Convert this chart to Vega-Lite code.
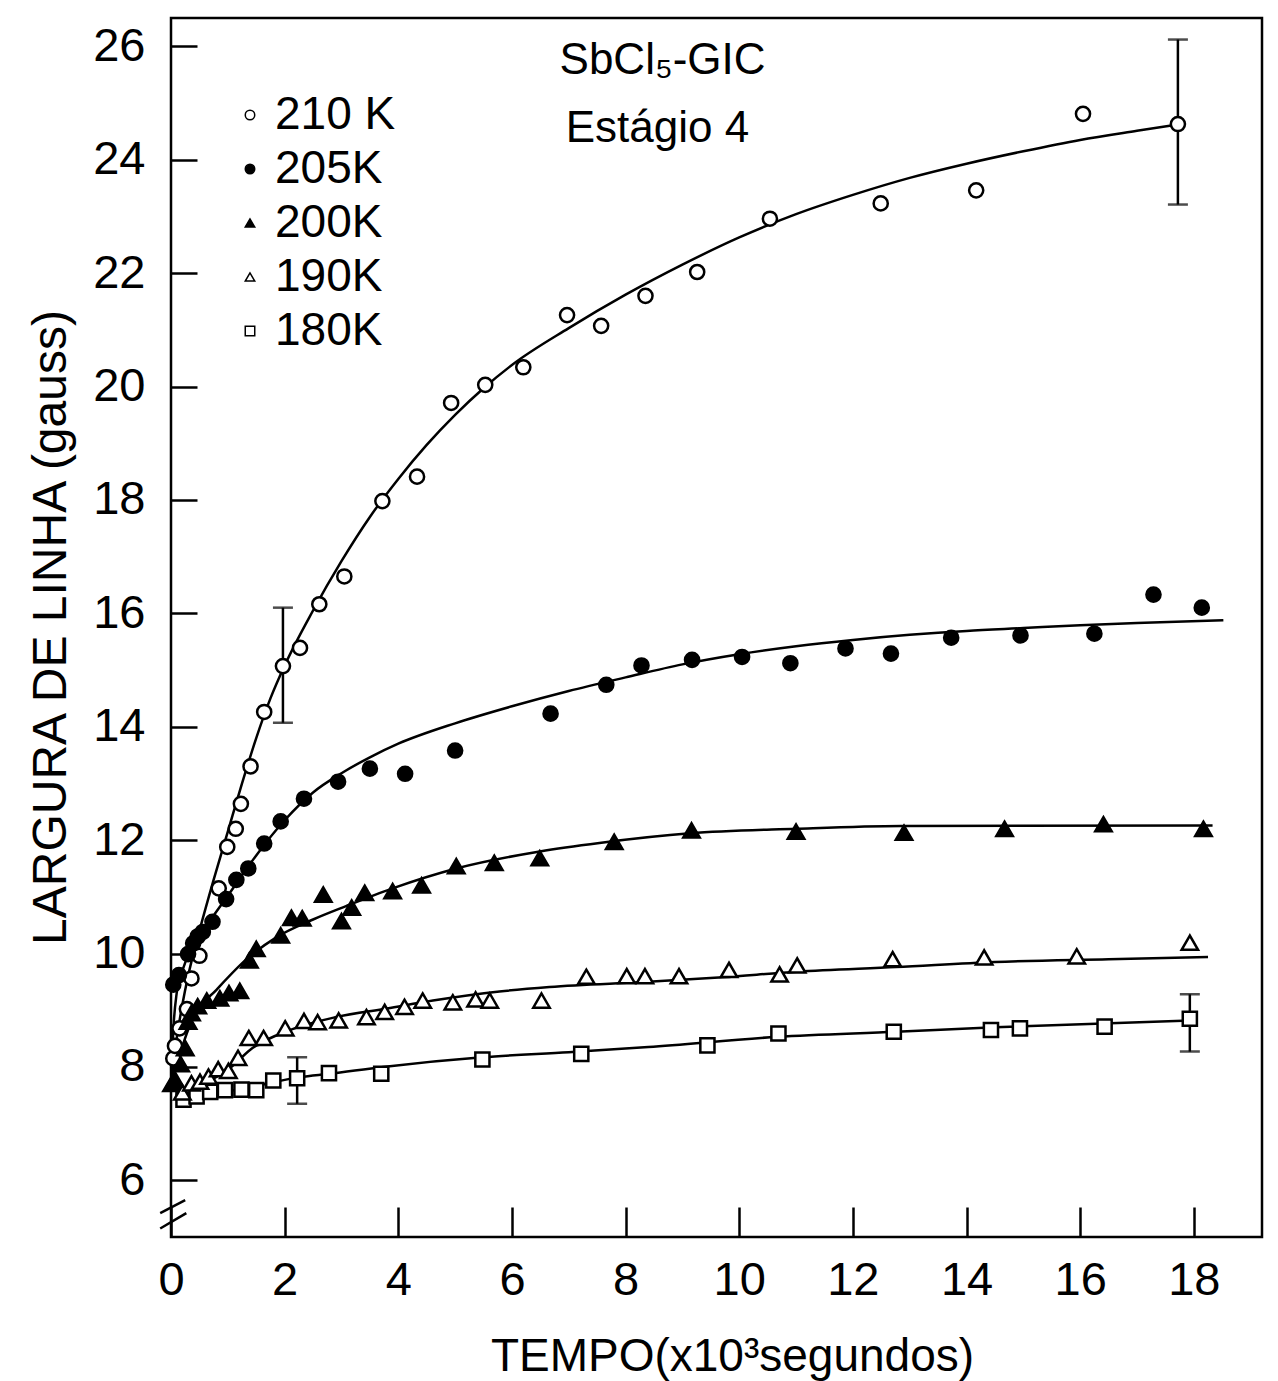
{
  "$schema": "https://vega.github.io/schema/vega-lite/v6.json",
  "width": 1091,
  "height": 1219,
  "autosize": {"type": "none"},
  "padding": {"left": 171, "top": 18, "right": 16, "bottom": 144},
  "background": "white",
  "config": {
    "font": "Liberation Sans",
    "view": {"stroke": "black", "strokeWidth": 2.5},
    "axis": {
      "domain": false,
      "grid": false,
      "tickColor": "black",
      "tickWidth": 2.5,
      "labelFont": "Liberation Sans",
      "labelFontSize": 47,
      "labelColor": "black",
      "titleFont": "Liberation Sans",
      "titleFontWeight": "normal",
      "titleColor": "black"
    },
    "axisX": {"tickSize": -30, "labelPadding": 50, "labelFlush": false, "titleFontSize": 46},
    "axisY": {"tickSize": -26, "labelPadding": 52, "labelFlush": false, "titleFontSize": 48},
    "legend": {
      "labelFont": "Liberation Sans",
      "labelFontSize": 46,
      "labelColor": "black",
      "symbolSize": 90,
      "rowPadding": 8,
      "labelOffset": 2,
      "padding": 0
    }
  },
  "datasets": {
    "points": [
      {"serie": "210 K", "t": 0.04, "w": 8.15},
      {"serie": "210 K", "t": 0.07, "w": 8.37},
      {"serie": "210 K", "t": 0.15, "w": 8.68},
      {"serie": "210 K", "t": 0.28, "w": 9.02},
      {"serie": "210 K", "t": 0.36, "w": 9.56},
      {"serie": "210 K", "t": 0.5, "w": 9.96},
      {"serie": "210 K", "t": 0.84, "w": 11.15},
      {"serie": "210 K", "t": 0.99, "w": 11.88},
      {"serie": "210 K", "t": 1.14, "w": 12.2},
      {"serie": "210 K", "t": 1.23, "w": 12.64},
      {"serie": "210 K", "t": 1.4, "w": 13.3},
      {"serie": "210 K", "t": 1.64, "w": 14.26},
      {"serie": "210 K", "t": 1.97, "w": 15.07},
      {"serie": "210 K", "t": 2.27, "w": 15.39},
      {"serie": "210 K", "t": 2.61, "w": 16.16},
      {"serie": "210 K", "t": 3.05, "w": 16.65},
      {"serie": "210 K", "t": 3.72, "w": 17.98},
      {"serie": "210 K", "t": 4.33, "w": 18.41},
      {"serie": "210 K", "t": 4.93, "w": 19.71},
      {"serie": "210 K", "t": 5.53, "w": 20.03},
      {"serie": "210 K", "t": 6.2, "w": 20.34},
      {"serie": "210 K", "t": 6.97, "w": 21.26},
      {"serie": "210 K", "t": 7.57, "w": 21.07},
      {"serie": "210 K", "t": 8.35, "w": 21.6},
      {"serie": "210 K", "t": 9.26, "w": 22.02},
      {"serie": "210 K", "t": 10.54, "w": 22.96},
      {"serie": "210 K", "t": 12.49, "w": 23.23},
      {"serie": "210 K", "t": 14.17, "w": 23.46},
      {"serie": "210 K", "t": 16.05, "w": 24.81},
      {"serie": "210 K", "t": 17.72, "w": 24.63},
      {"serie": "205K", "t": 0.04, "w": 9.45},
      {"serie": "205K", "t": 0.14, "w": 9.62},
      {"serie": "205K", "t": 0.3, "w": 9.99},
      {"serie": "205K", "t": 0.39, "w": 10.18},
      {"serie": "205K", "t": 0.47, "w": 10.3},
      {"serie": "205K", "t": 0.56, "w": 10.38},
      {"serie": "205K", "t": 0.73, "w": 10.56},
      {"serie": "205K", "t": 0.97, "w": 10.96},
      {"serie": "205K", "t": 1.15, "w": 11.3},
      {"serie": "205K", "t": 1.36, "w": 11.5},
      {"serie": "205K", "t": 1.64, "w": 11.94},
      {"serie": "205K", "t": 1.93, "w": 12.33},
      {"serie": "205K", "t": 2.34, "w": 12.73},
      {"serie": "205K", "t": 2.94, "w": 13.03},
      {"serie": "205K", "t": 3.5, "w": 13.26},
      {"serie": "205K", "t": 4.12, "w": 13.17},
      {"serie": "205K", "t": 5.0, "w": 13.58},
      {"serie": "205K", "t": 6.68, "w": 14.23},
      {"serie": "205K", "t": 7.66, "w": 14.74},
      {"serie": "205K", "t": 8.28, "w": 15.08},
      {"serie": "205K", "t": 9.17, "w": 15.18},
      {"serie": "205K", "t": 10.05, "w": 15.23},
      {"serie": "205K", "t": 10.9, "w": 15.12},
      {"serie": "205K", "t": 11.87, "w": 15.38},
      {"serie": "205K", "t": 12.67, "w": 15.29},
      {"serie": "205K", "t": 13.73, "w": 15.57},
      {"serie": "205K", "t": 14.95, "w": 15.61},
      {"serie": "205K", "t": 16.25, "w": 15.64},
      {"serie": "205K", "t": 17.29, "w": 16.33},
      {"serie": "205K", "t": 18.14, "w": 16.1},
      {"serie": "200K", "t": 0.01, "w": 7.7},
      {"serie": "200K", "t": 0.07, "w": 7.78},
      {"serie": "200K", "t": 0.17, "w": 8.05},
      {"serie": "200K", "t": 0.25, "w": 8.33},
      {"serie": "200K", "t": 0.3, "w": 8.8},
      {"serie": "200K", "t": 0.36, "w": 8.95},
      {"serie": "200K", "t": 0.47, "w": 9.07},
      {"serie": "200K", "t": 0.63, "w": 9.17},
      {"serie": "200K", "t": 0.86, "w": 9.21},
      {"serie": "200K", "t": 1.02, "w": 9.3},
      {"serie": "200K", "t": 1.21, "w": 9.34},
      {"serie": "200K", "t": 1.38, "w": 9.88},
      {"serie": "200K", "t": 1.5, "w": 10.08},
      {"serie": "200K", "t": 1.93, "w": 10.32},
      {"serie": "200K", "t": 2.12, "w": 10.63},
      {"serie": "200K", "t": 2.31, "w": 10.62},
      {"serie": "200K", "t": 2.68, "w": 11.04},
      {"serie": "200K", "t": 3.0, "w": 10.57},
      {"serie": "200K", "t": 3.18, "w": 10.81},
      {"serie": "200K", "t": 3.41, "w": 11.07},
      {"serie": "200K", "t": 3.9, "w": 11.1},
      {"serie": "200K", "t": 4.41, "w": 11.2},
      {"serie": "200K", "t": 5.02, "w": 11.54},
      {"serie": "200K", "t": 5.69, "w": 11.6},
      {"serie": "200K", "t": 6.49, "w": 11.68},
      {"serie": "200K", "t": 7.8, "w": 11.97},
      {"serie": "200K", "t": 9.16, "w": 12.17},
      {"serie": "200K", "t": 11.0, "w": 12.15},
      {"serie": "200K", "t": 12.9, "w": 12.13},
      {"serie": "200K", "t": 14.67, "w": 12.2},
      {"serie": "200K", "t": 16.41, "w": 12.28},
      {"serie": "200K", "t": 18.17, "w": 12.2},
      {"serie": "190K", "t": 0.2, "w": 7.55},
      {"serie": "190K", "t": 0.36, "w": 7.71},
      {"serie": "190K", "t": 0.51, "w": 7.74},
      {"serie": "190K", "t": 0.66, "w": 7.83},
      {"serie": "190K", "t": 0.83, "w": 7.96},
      {"serie": "190K", "t": 1.01, "w": 7.93},
      {"serie": "190K", "t": 1.18, "w": 8.16},
      {"serie": "190K", "t": 1.37, "w": 8.51},
      {"serie": "190K", "t": 1.63, "w": 8.51},
      {"serie": "190K", "t": 2.01, "w": 8.68},
      {"serie": "190K", "t": 2.34, "w": 8.81},
      {"serie": "190K", "t": 2.58, "w": 8.79},
      {"serie": "190K", "t": 2.95, "w": 8.82},
      {"serie": "190K", "t": 3.44, "w": 8.88},
      {"serie": "190K", "t": 3.76, "w": 8.97},
      {"serie": "190K", "t": 4.11, "w": 9.06},
      {"serie": "190K", "t": 4.43, "w": 9.17},
      {"serie": "190K", "t": 4.96, "w": 9.14},
      {"serie": "190K", "t": 5.36, "w": 9.19},
      {"serie": "190K", "t": 5.61, "w": 9.17},
      {"serie": "190K", "t": 6.52, "w": 9.17},
      {"serie": "190K", "t": 7.31, "w": 9.59},
      {"serie": "190K", "t": 8.02, "w": 9.6},
      {"serie": "190K", "t": 8.34, "w": 9.6},
      {"serie": "190K", "t": 8.94, "w": 9.6},
      {"serie": "190K", "t": 9.82, "w": 9.71},
      {"serie": "190K", "t": 10.71, "w": 9.63},
      {"serie": "190K", "t": 11.02, "w": 9.79},
      {"serie": "190K", "t": 12.7, "w": 9.9},
      {"serie": "190K", "t": 14.31, "w": 9.93},
      {"serie": "190K", "t": 15.94, "w": 9.95},
      {"serie": "190K", "t": 17.93, "w": 10.19},
      {"serie": "180K", "t": 0.22, "w": 7.42},
      {"serie": "180K", "t": 0.45, "w": 7.48},
      {"serie": "180K", "t": 0.69, "w": 7.56},
      {"serie": "180K", "t": 0.95, "w": 7.59},
      {"serie": "180K", "t": 1.24, "w": 7.6},
      {"serie": "180K", "t": 1.5, "w": 7.59},
      {"serie": "180K", "t": 1.8, "w": 7.76},
      {"serie": "180K", "t": 2.22, "w": 7.8},
      {"serie": "180K", "t": 2.78, "w": 7.89},
      {"serie": "180K", "t": 3.7, "w": 7.88},
      {"serie": "180K", "t": 5.48, "w": 8.13},
      {"serie": "180K", "t": 7.22, "w": 8.23},
      {"serie": "180K", "t": 9.44, "w": 8.38},
      {"serie": "180K", "t": 10.69, "w": 8.59},
      {"serie": "180K", "t": 12.72, "w": 8.62},
      {"serie": "180K", "t": 14.43, "w": 8.65},
      {"serie": "180K", "t": 14.94, "w": 8.68},
      {"serie": "180K", "t": 16.43, "w": 8.71},
      {"serie": "180K", "t": 17.93, "w": 8.85}
    ],
    "curves": [
      {"serie": "210 K", "t": 0, "w": 7.7},
      {"serie": "210 K", "t": 0.1, "w": 8.5},
      {"serie": "210 K", "t": 0.2, "w": 9.1},
      {"serie": "210 K", "t": 0.3, "w": 9.6},
      {"serie": "210 K", "t": 0.4, "w": 10.02},
      {"serie": "210 K", "t": 0.5, "w": 10.4},
      {"serie": "210 K", "t": 0.75, "w": 11.3},
      {"serie": "210 K", "t": 1.0, "w": 12.15},
      {"serie": "210 K", "t": 1.25, "w": 13.0},
      {"serie": "210 K", "t": 1.5, "w": 13.8},
      {"serie": "210 K", "t": 1.75, "w": 14.5},
      {"serie": "210 K", "t": 2.0, "w": 15.08},
      {"serie": "210 K", "t": 2.5, "w": 16.05},
      {"serie": "210 K", "t": 3.0, "w": 16.92},
      {"serie": "210 K", "t": 3.5, "w": 17.7},
      {"serie": "210 K", "t": 4.0, "w": 18.37},
      {"serie": "210 K", "t": 4.5, "w": 18.97},
      {"serie": "210 K", "t": 5.0, "w": 19.5},
      {"serie": "210 K", "t": 5.5, "w": 19.97},
      {"serie": "210 K", "t": 6.0, "w": 20.38},
      {"serie": "210 K", "t": 7.0, "w": 21.03},
      {"serie": "210 K", "t": 8.0, "w": 21.62},
      {"serie": "210 K", "t": 9.0, "w": 22.15},
      {"serie": "210 K", "t": 10.0, "w": 22.63},
      {"serie": "210 K", "t": 11.0, "w": 23.04},
      {"serie": "210 K", "t": 12.0, "w": 23.38},
      {"serie": "210 K", "t": 13.0, "w": 23.68},
      {"serie": "210 K", "t": 14.0, "w": 23.93},
      {"serie": "210 K", "t": 15.0, "w": 24.15},
      {"serie": "210 K", "t": 16.0, "w": 24.35},
      {"serie": "210 K", "t": 17.0, "w": 24.51},
      {"serie": "210 K", "t": 17.72, "w": 24.62},
      {"serie": "205K", "t": 0, "w": 7.7},
      {"serie": "205K", "t": 0.05, "w": 8.8},
      {"serie": "205K", "t": 0.1, "w": 9.3},
      {"serie": "205K", "t": 0.2, "w": 9.7},
      {"serie": "205K", "t": 0.35, "w": 10.05},
      {"serie": "205K", "t": 0.5, "w": 10.3},
      {"serie": "205K", "t": 0.75, "w": 10.67},
      {"serie": "205K", "t": 1.0, "w": 11.02},
      {"serie": "205K", "t": 1.25, "w": 11.38},
      {"serie": "205K", "t": 1.5, "w": 11.73},
      {"serie": "205K", "t": 2.0, "w": 12.35},
      {"serie": "205K", "t": 2.5, "w": 12.84},
      {"serie": "205K", "t": 3.0, "w": 13.18},
      {"serie": "205K", "t": 3.5, "w": 13.46},
      {"serie": "205K", "t": 4.0, "w": 13.7},
      {"serie": "205K", "t": 5.0, "w": 14.06},
      {"serie": "205K", "t": 6.0, "w": 14.36},
      {"serie": "205K", "t": 7.0, "w": 14.63},
      {"serie": "205K", "t": 8.0, "w": 14.87},
      {"serie": "205K", "t": 9.0, "w": 15.1},
      {"serie": "205K", "t": 10.0, "w": 15.28},
      {"serie": "205K", "t": 11.0, "w": 15.42},
      {"serie": "205K", "t": 12.0, "w": 15.53},
      {"serie": "205K", "t": 13.0, "w": 15.62},
      {"serie": "205K", "t": 14.0, "w": 15.69},
      {"serie": "205K", "t": 15.0, "w": 15.74},
      {"serie": "205K", "t": 16.0, "w": 15.79},
      {"serie": "205K", "t": 17.0, "w": 15.83},
      {"serie": "205K", "t": 18.52, "w": 15.88},
      {"serie": "200K", "t": 0, "w": 7.7},
      {"serie": "200K", "t": 0.15, "w": 8.2},
      {"serie": "200K", "t": 0.3, "w": 8.65},
      {"serie": "200K", "t": 0.45, "w": 8.97},
      {"serie": "200K", "t": 0.8, "w": 9.36},
      {"serie": "200K", "t": 1.33, "w": 9.9},
      {"serie": "200K", "t": 1.86, "w": 10.29},
      {"serie": "200K", "t": 2.5, "w": 10.6},
      {"serie": "200K", "t": 3.09, "w": 10.84},
      {"serie": "200K", "t": 3.9, "w": 11.15},
      {"serie": "200K", "t": 5.02, "w": 11.5},
      {"serie": "200K", "t": 6.49, "w": 11.8},
      {"serie": "200K", "t": 7.54, "w": 11.95},
      {"serie": "200K", "t": 9.14, "w": 12.12},
      {"serie": "200K", "t": 11.0, "w": 12.2},
      {"serie": "200K", "t": 12.85, "w": 12.25},
      {"serie": "200K", "t": 18.33, "w": 12.26},
      {"serie": "190K", "t": 0, "w": 7.7},
      {"serie": "190K", "t": 0.25, "w": 7.6},
      {"serie": "190K", "t": 0.6, "w": 7.72},
      {"serie": "190K", "t": 1.04, "w": 7.98},
      {"serie": "190K", "t": 1.39, "w": 8.3},
      {"serie": "190K", "t": 2.09, "w": 8.65},
      {"serie": "190K", "t": 2.91, "w": 8.88},
      {"serie": "190K", "t": 3.8, "w": 9.03},
      {"serie": "190K", "t": 4.61, "w": 9.17},
      {"serie": "190K", "t": 5.78, "w": 9.33},
      {"serie": "190K", "t": 6.66, "w": 9.41},
      {"serie": "190K", "t": 8.4, "w": 9.5},
      {"serie": "190K", "t": 9.71, "w": 9.58},
      {"serie": "190K", "t": 11.02, "w": 9.68},
      {"serie": "190K", "t": 12.76, "w": 9.76},
      {"serie": "190K", "t": 14.5, "w": 9.85},
      {"serie": "190K", "t": 16.5, "w": 9.9},
      {"serie": "190K", "t": 18.25, "w": 9.94},
      {"serie": "180K", "t": 0, "w": 7.7},
      {"serie": "180K", "t": 0.25, "w": 7.5},
      {"serie": "180K", "t": 0.6, "w": 7.53},
      {"serie": "180K", "t": 1.3, "w": 7.62},
      {"serie": "180K", "t": 1.79, "w": 7.73},
      {"serie": "180K", "t": 2.27, "w": 7.82},
      {"serie": "180K", "t": 2.79, "w": 7.88},
      {"serie": "180K", "t": 3.73, "w": 8.0},
      {"serie": "180K", "t": 5.48, "w": 8.17},
      {"serie": "180K", "t": 7.0, "w": 8.26},
      {"serie": "180K", "t": 8.4, "w": 8.35},
      {"serie": "180K", "t": 10.67, "w": 8.53},
      {"serie": "180K", "t": 12.76, "w": 8.62},
      {"serie": "180K", "t": 14.5, "w": 8.7},
      {"serie": "180K", "t": 17.94, "w": 8.82}
    ],
    "errors": [
      {"t": 1.97, "lo": 14.07, "hi": 16.1},
      {"t": 17.72, "lo": 23.21, "hi": 26.12},
      {"t": 2.22, "lo": 7.35, "hi": 8.17},
      {"t": 17.93, "lo": 8.27, "hi": 9.28}
    ],
    "notes": [
      {"t": 8.65, "w": 25.75, "label": "SbCl₅-GIC"},
      {"t": 8.56, "w": 24.55, "label": "Estágio 4"}
    ],
    "brk": [
      {"t": -0.19, "w": 5.42, "t2": 0.25, "w2": 5.65},
      {"t": -0.19, "w": 5.15, "t2": 0.27, "w2": 5.42}
    ]
  },
  "encoding": {
    "x": {
      "field": "t",
      "type": "quantitative",
      "scale": {"domain": [0, 19.2], "nice": false, "zero": false},
      "axis": {"values": [0, 2, 4, 6, 8, 10, 12, 14, 16, 18], "title": "TEMPO(x10³segundos)", "titleX": 561, "titleY": 133, "titleBaseline": "alphabetic"}
    },
    "y": {
      "field": "w",
      "type": "quantitative",
      "scale": {"domain": [5, 26.5], "nice": false, "zero": false},
      "axis": {"values": [6, 8, 10, 12, 14, 16, 18, 20, 22, 24, 26], "title": "LARGURA DE LINHA (gauss)", "titleX": -106, "titleY": 609, "titleBaseline": "alphabetic", "titleAngle": -90}
    }
  },
  "layer": [
    {
      "data": {"name": "curves"},
      "mark": {"type": "line", "color": "black", "strokeWidth": 2.5, "interpolate": "monotone"},
      "encoding": {"detail": {"field": "serie", "type": "nominal"}}
    },
    {
      "data": {"name": "errors"},
      "mark": {"type": "rule", "color": "black", "strokeWidth": 2.5},
      "encoding": {
        "y": {"field": "lo", "type": "quantitative", "title": "LARGURA DE LINHA (gauss)"},
        "y2": {"field": "hi"}
      }
    },
    {
      "data": {"name": "errors"},
      "mark": {"type": "tick", "orient": "horizontal", "color": "black", "size": 20, "thickness": 2.5},
      "encoding": {"y": {"field": "lo", "type": "quantitative", "title": "LARGURA DE LINHA (gauss)"}}
    },
    {
      "data": {"name": "errors"},
      "mark": {"type": "tick", "orient": "horizontal", "color": "black", "size": 20, "thickness": 2.5},
      "encoding": {"y": {"field": "hi", "type": "quantitative", "title": "LARGURA DE LINHA (gauss)"}}
    },
    {
      "data": {"name": "points"},
      "transform": [{"filter": {"field": "serie", "oneOf": ["210 K", "205K", "180K"]}}],
      "mark": {"type": "point", "filled": true, "stroke": "black", "strokeWidth": 2.5, "opacity": 1, "size": 200},
      "encoding": {
        "shape": {
          "field": "serie", "type": "nominal", "title": null,
          "scale": {"domain": ["210 K", "205K", "200K", "190K", "180K"], "range": ["circle", "circle", "triangle-up", "triangle-up", "square"]},
          "legend": {"orient": "none", "legendX": 56, "legendY": 74, "encode": {"symbols": {"update": {"stroke": {"value": "black"}, "strokeWidth": {"value": 2}, "opacity": {"value": 1}}}}}
        },
        "fill": {
          "field": "serie", "type": "nominal", "title": null,
          "scale": {"domain": ["210 K", "205K", "200K", "190K", "180K"], "range": ["white", "black", "black", "white", "white"]},
          "legend": {"orient": "none", "legendX": 56, "legendY": 74, "encode": {"symbols": {"update": {"stroke": {"value": "black"}, "strokeWidth": {"value": 2}, "opacity": {"value": 1}}}}}
        }
      }
    },
    {
      "data": {"name": "points"},
      "transform": [{"filter": {"field": "serie", "oneOf": ["200K", "190K"]}}],
      "mark": {"type": "point", "filled": true, "stroke": "black", "strokeWidth": 2.5, "opacity": 1, "size": 270},
      "encoding": {
        "shape": {"field": "serie", "type": "nominal", "title": null},
        "fill": {"field": "serie", "type": "nominal", "title": null}
      }
    },
    {
      "data": {"name": "notes"},
      "mark": {"type": "text", "font": "Liberation Sans", "fontSize": 44, "color": "black", "align": "center", "baseline": "middle"},
      "encoding": {"text": {"field": "label"}}
    },
    {
      "data": {"name": "brk"},
      "mark": {"type": "rule", "color": "black", "strokeWidth": 2.5},
      "encoding": {"x2": {"field": "t2"}, "y2": {"field": "w2"}}
    }
  ]
}
